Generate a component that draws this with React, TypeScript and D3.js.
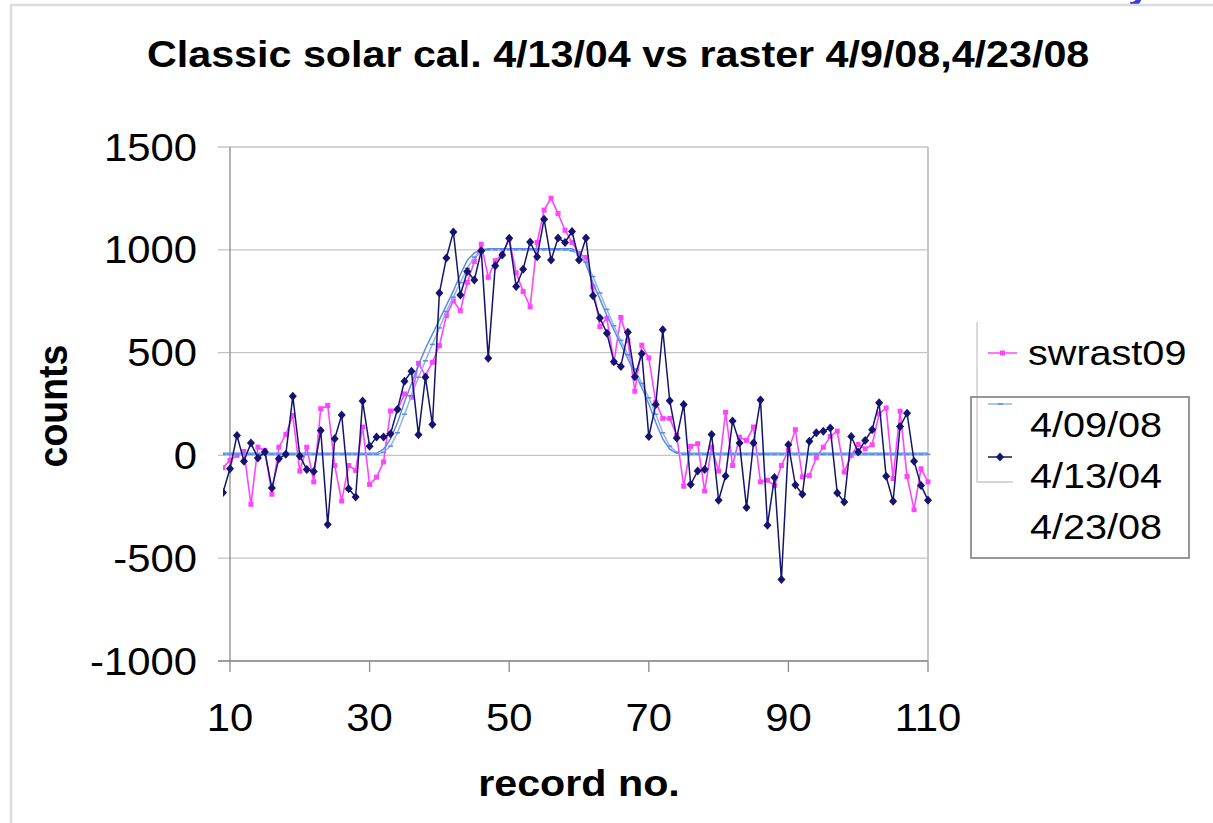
import * as d3 from "d3";

// record numbers 9..110
const records = d3.range(9, 111);

// swrast09 (pink)
const swrast09 = [
  -60, -24, 0, 19, -238, 40, 24, -189, 40, 102, 194, -76, 40, -129, 227, 243, -49, -222, -49, -73, 138,
  -141, -106, -32, 216, 222, 299, 283, 448, 388, 453, 534, 680, 752, 704, 841, 943, 1027, 866, 947, 979,
  1052, 888, 797, 723, 1036, 1193, 1251, 1176, 1095, 1036, 982, 963, 820, 626, 667, 453, 671, 558, 312, 536,
  474, 259, 180, 180, 97, -150, 44, 57, -173, 40, -76, 210, -49, 89, 73, 138, -129, -121, -146, -49,
  25, 125, -104, -99, -11, 40, 92, 118, -81, 0, 53, 32, 52, 202, 231, -113, 215, -102, -264, -65, -129,
];

// 4/13/04 (dark navy, diamonds)
const cal041304 = [
  -180, -65, 97, -28, 60, -13, 16, -159, -16, 5, 288, -3, -68, -78, 121, -336, 81, 197, -162, -202, 264,
  44, 90, 90, 105, 225, 361, 409, 100, 380, 150, 790, 960, 1087, 780, 895, 853, 995, 472, 922, 975,
  1056, 821, 906, 1038, 966, 1149, 950, 1057, 1036, 1089, 950, 1057, 777, 668, 594, 456, 432, 599, 383, 494,
  92, 247, 611, 266, 85, 248, -142, -76, -68, 102, -218, -100, 167, 60, -254, 60, 270, -340, -108, -604,
  52, -144, -189, 69, 110, 118, 133, -183, -227, 92, 16, 73, 125, 256, -102, -223, 141, 205, -28, -146, -218,
];

// 4/09/08 (light blue, dash markers)
const ras040908 = [
  5, 5, 5, 5, 5, 5, 5, 5, 5, 5, 5, 5, 5, 5, 5, 5, 5, 5, 5, 5, 5,
  5, 5, 15, 45, 110, 200, 290, 380, 460, 540, 620, 700, 770, 840, 910, 965, 990, 1000, 1000, 1000,
  1000, 1000, 1000, 1000, 1000, 1000, 1000, 1000, 1000, 995, 980, 940, 870, 790, 710, 630, 560, 490, 420, 350,
  280, 200, 110, 45, 15, 5, 5, 5, 5, 5, 5, 5, 5, 5, 5, 5, 5, 5, 5, 5,
  5, 5, 5, 5, 5, 5, 5, 5, 5, 5, 5, 5, 5, 5, 5, 5, 5, 5, 5, 5, 5,
];

// 4/23/08 (blue)
const ras042308 = [
  10, 10, 10, 10, 10, 10, 10, 10, 10, 10, 10, 10, 10, 10, 10, 10, 10, 10, 10, 10, 10,
  10, 10, 30, 80, 160, 260, 350, 440, 520, 590, 660, 730, 800, 880, 950, 985, 1000, 1005, 1005, 1005,
  1005, 1005, 1005, 1005, 1005, 1005, 1005, 1005, 1005, 1005, 990, 930, 840, 760, 680, 610, 540, 470, 400, 330,
  250, 160, 80, 30, 10, 10, 10, 10, 10, 10, 10, 10, 10, 10, 10, 10, 10, 10, 10, 10,
  10, 10, 10, 10, 10, 10, 10, 10, 10, 10, 10, 10, 10, 10, 10, 10, 10, 10, 10, 10, 10,
];

const xTicks = [10, 30, 50, 70, 90, 110];
const yTicks = [-1000, -500, 0, 500, 1000, 1500];

const PINK = "#ff44ff";
const NAVY = "#141470";
const LBLUE = "#8fb2f0";
const MBLUE = "#5b8ae6";
const FONT = "Arial, 'Liberation Sans', sans-serif";
const SX = 1.1; // horizontal stretch of the source image

const T = ({ x, y, size, bold, anchor, children, rotate }: any) => (
  <text
    transform={
      rotate
        ? `translate(${x},${y}) rotate(-90) scale(1,${SX})`
        : `translate(${x},${y}) scale(${SX},1)`
    }
    fontSize={size}
    fontWeight={bold ? "bold" : "normal"}
    textAnchor={anchor || "start"}
    fontFamily={FONT}
    fill="#000"
  >
    {children}
  </text>
);

export default function App() {
  const W = 1213, H = 823;
  const x = d3.scaleLinear().domain([10, 110]).range([230, 928]);
  const y = d3.scaleLinear().domain([-1000, 1500]).range([661, 147]);

  const line = (vals: number[]) =>
    d3.line<number>().x((_, i) => x(records[i])).y((v) => y(v))(vals) || "";

  return (
    <svg
      width={W}
      height={H}
      style={{ position: "absolute", left: 0, top: 0, background: "#fff" }}
    >
      <defs>
        <clipPath id="plotClip">
          <rect x={223} y={140} width={712} height={528} />
        </clipPath>
      </defs>
      <rect width={W} height={H} fill="#fff" />

      {/* partial glyph at top edge */}
      <text x={1128} y={-2} fontSize={40} fontWeight="bold" fill="#3b3bd0" fontFamily={FONT}>
        y
      </text>

      {/* chart frame */}
      <path d={`M${W + 2},5 L11,5 L11,${H + 2}`} fill="none" stroke="#dcdcdc" strokeWidth={2.5} />

      {/* title */}
      <T x={147} y={67} size={37.5} bold>
        Classic solar cal. 4/13/04 vs raster 4/9/08,4/23/08
      </T>

      {/* gridlines */}
      {yTicks.map((t) => (
        <line key={t} x1={218} x2={928} y1={y(t)} y2={y(t)} stroke="#c4c4c4" strokeWidth={1.3} />
      ))}
      <line x1={928} x2={928} y1={y(1500)} y2={y(-1000)} stroke="#c8c8c8" strokeWidth={2} />

      {/* axes */}
      <line x1={230} x2={230} y1={y(1500)} y2={y(-1000) + 1} stroke="#8a8a8a" strokeWidth={1.3} />
      <line x1={218} x2={928} y1={y(-1000)} y2={y(-1000)} stroke="#8a8a8a" strokeWidth={1.3} />
      {xTicks.map((t) => (
        <line key={t} x1={x(t)} x2={x(t)} y1={y(-1000)} y2={y(-1000) + 11} stroke="#8a8a8a" strokeWidth={1.3} />
      ))}

      {yTicks.map((t) => (
        <T key={t} x={197} y={y(t) + 13.5} size={38} anchor="end">
          {t}
        </T>
      ))}
      {xTicks.map((t) => (
        <T key={t} x={x(t)} y={731} size={38} anchor="middle">
          {t}
        </T>
      ))}

      <T x={67} y={406} size={37.5} bold anchor="middle" rotate>
        counts
      </T>
      <T x={579} y={796} size={37.5} bold anchor="middle">
        record no.
      </T>

      {/* series */}
      <g clipPath="url(#plotClip)">
        <path d={line(swrast09)} fill="none" stroke={PINK} strokeWidth={1.6} />
        {swrast09.map((v, i) => (
          <rect key={i} x={x(records[i]) - 2.5} y={y(v) - 2.5} width={5} height={5} fill={PINK} />
        ))}
        <path d={line(ras042308)} fill="none" stroke={MBLUE} strokeWidth={1.5} />
        <path d={line(ras040908)} fill="none" stroke={LBLUE} strokeWidth={1.5} />
        {ras040908.map((v, i) => (
          <line key={i} x1={x(records[i]) - 2.5} x2={x(records[i]) + 2.5} y1={y(v)} y2={y(v)} stroke={MBLUE} strokeWidth={1.5} />
        ))}
        <path d={line(cal041304)} fill="none" stroke={NAVY} strokeWidth={1.5} />
        {cal041304.map((v, i) => (
          <path
            key={i}
            transform={`translate(${x(records[i])},${y(v)})`}
            d="M0,-4.5 L4,0 L0,4.5 L-4,0 Z"
            fill={NAVY}
          />
        ))}
      </g>

      {/* legends */}
      <path d="M977,322 L977,482 L1013,482" fill="none" stroke="#c8c8c8" strokeWidth={1.3} />
      <line x1={988} x2={1017} y1={353} y2={353} stroke={PINK} strokeWidth={1.5} />
      <rect x={1000} y={350.5} width={5} height={5} fill={PINK} />
      <T x={1028} y={365} size={36}>swrast09</T>

      <rect x={1015} y={399} width={172} height={157} fill="#fff" />
      <rect x={971} y={397} width={218} height={161} fill="none" stroke="#8c8c8c" strokeWidth={1.8} />
      <line x1={988} x2={1012} y1={404} y2={404} stroke={LBLUE} strokeWidth={1.5} />
      <line x1={998} x2={1003} y1={404} y2={404} stroke={MBLUE} strokeWidth={1.5} />
      <line x1={988} x2={1012} y1={457} y2={457} stroke={NAVY} strokeWidth={1.5} />
      <path transform="translate(1000,457)" d="M0,-4.5 L4,0 L0,4.5 L-4,0 Z" fill={NAVY} />
      <T x={1030} y={437} size={36}>4/09/08</T>
      <T x={1030} y={488} size={36}>4/13/04</T>
      <T x={1030} y={539} size={36}>4/23/08</T>
    </svg>
  );
}
